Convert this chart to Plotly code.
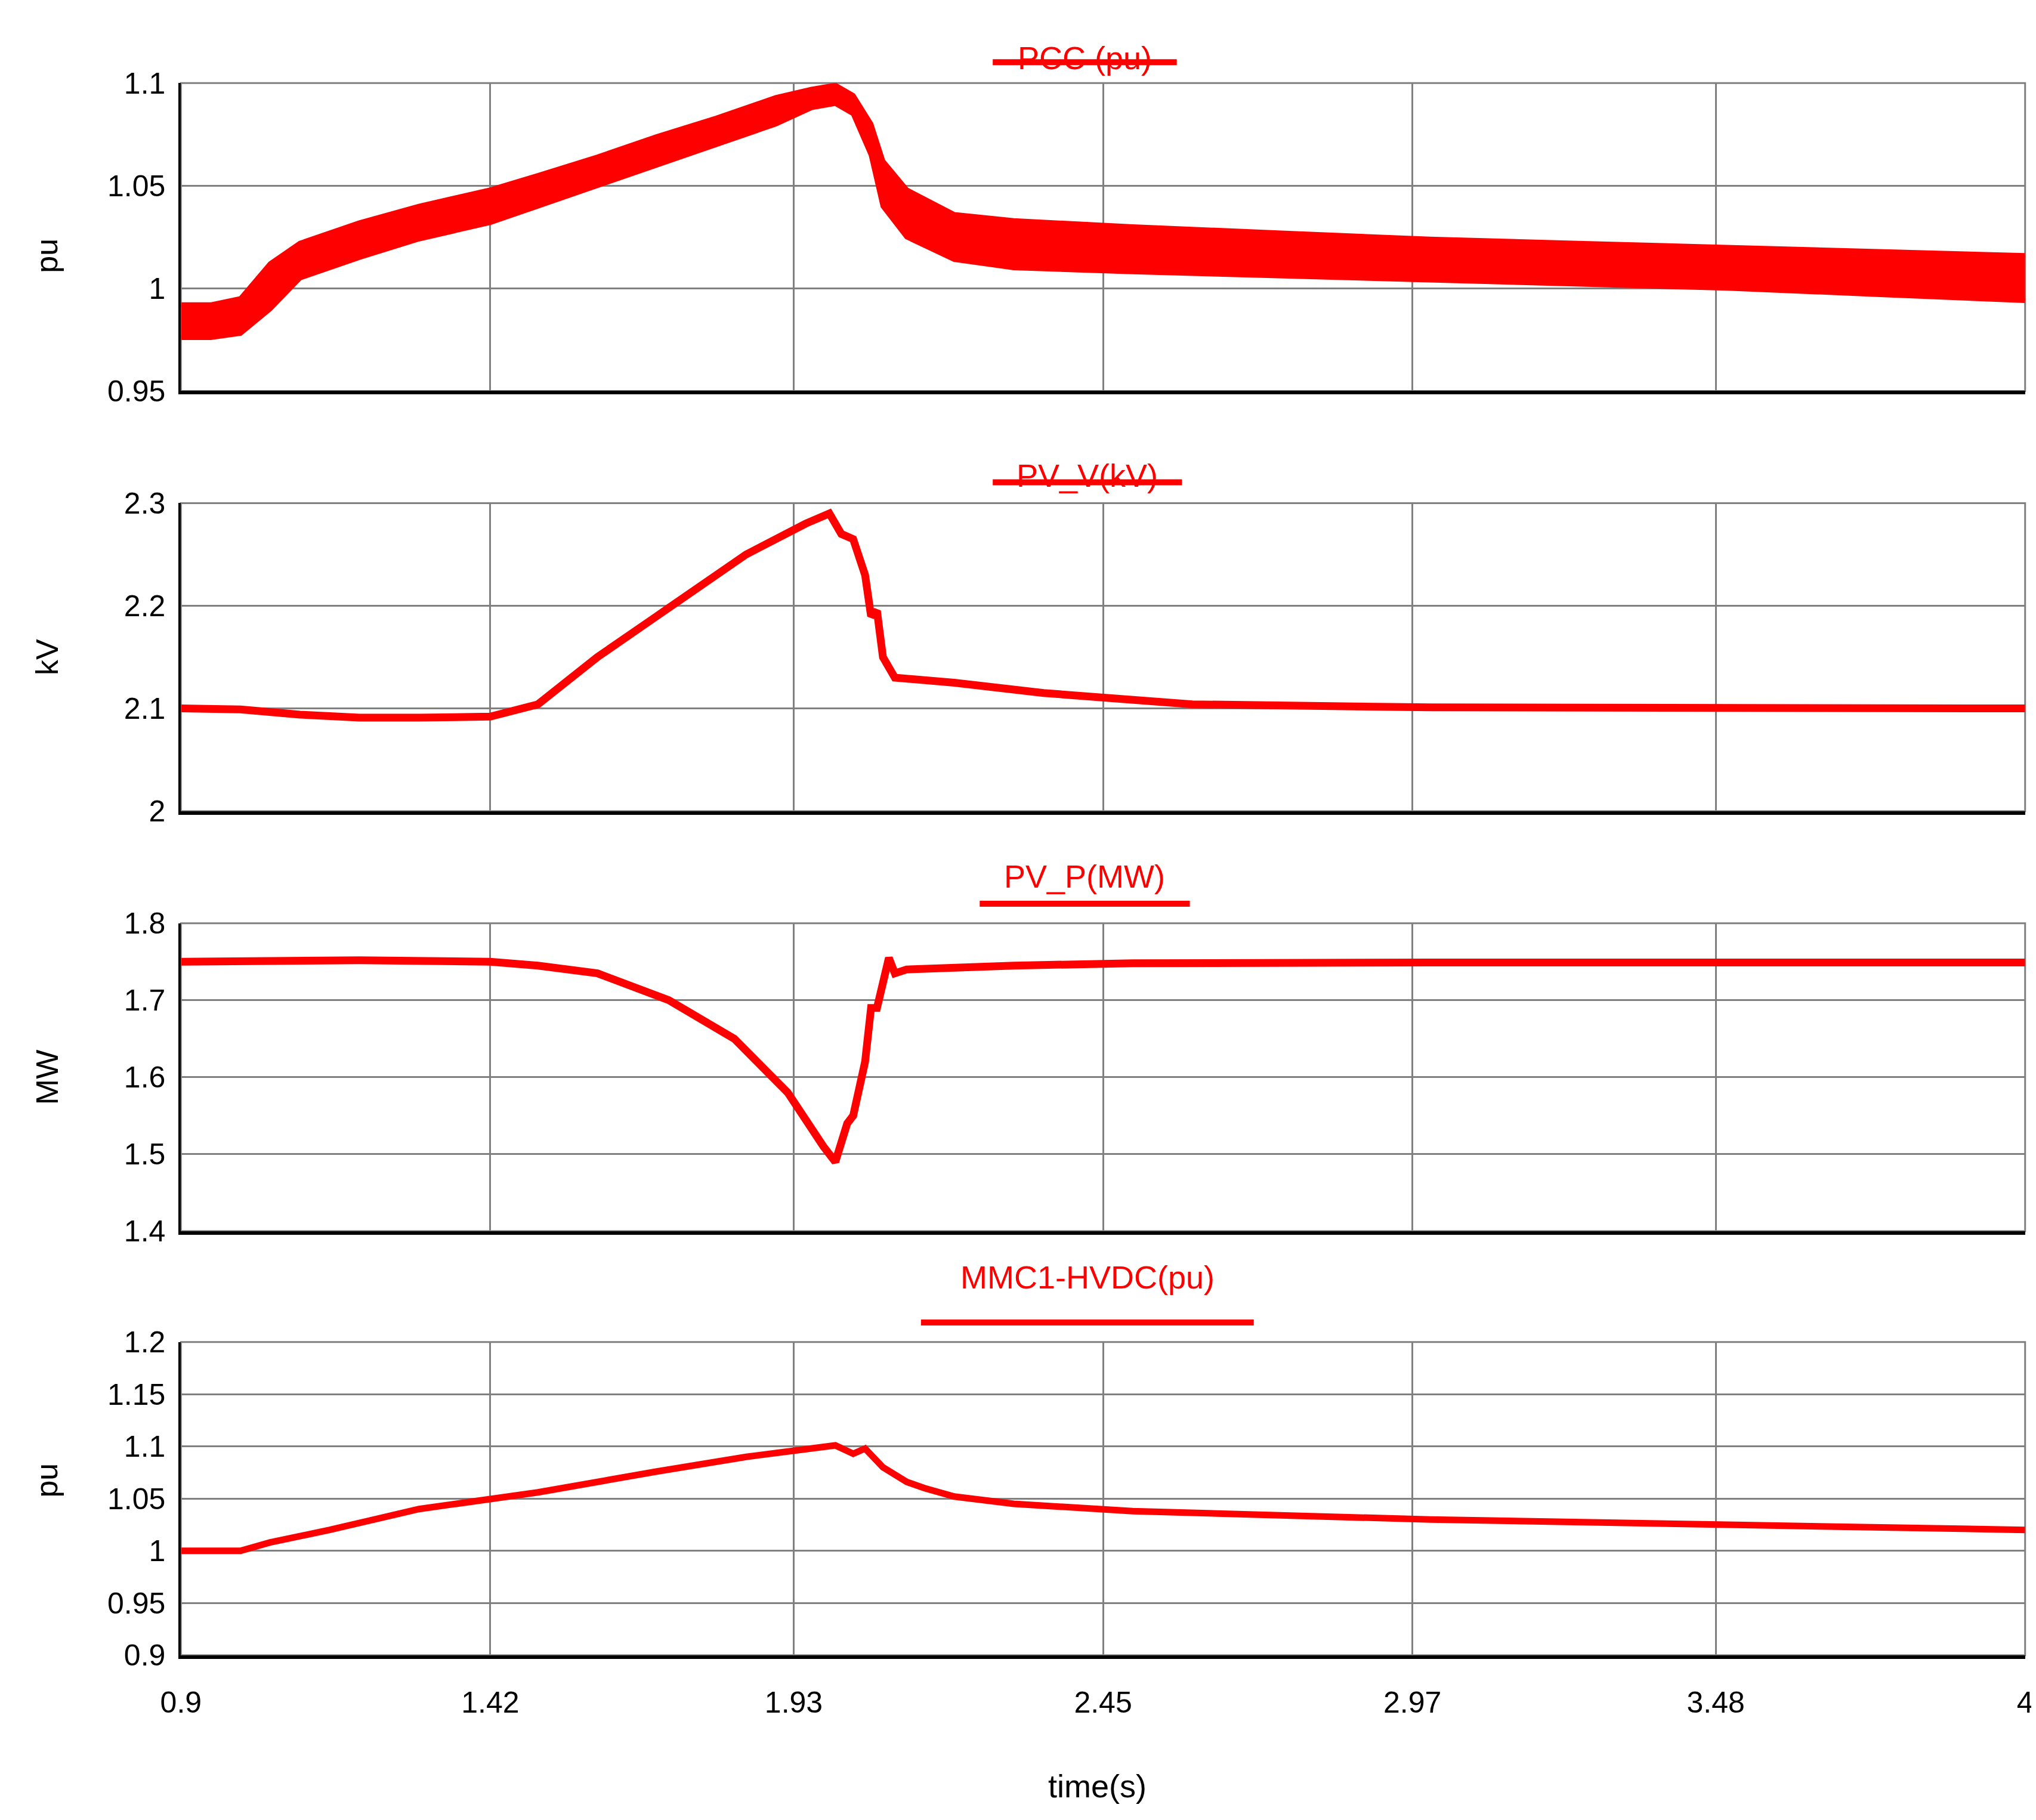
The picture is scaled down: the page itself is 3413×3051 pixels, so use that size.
import plotly.graph_objects as go

# PCC (pu) oscillation band envelopes
pcc_t = [0.9, 0.95, 1.0, 1.05, 1.1, 1.2, 1.3, 1.42, 1.5, 1.6, 1.7, 1.8, 1.9, 1.96, 2.0, 2.03, 2.06, 2.08, 2.12, 2.2, 2.3, 2.5, 2.75, 3.0, 3.25, 3.5, 3.75, 4.0]
pcc_hi = [0.992, 0.992, 0.995, 1.012, 1.022, 1.032, 1.040, 1.048, 1.055, 1.064, 1.074, 1.083, 1.093, 1.097, 1.099, 1.094, 1.080, 1.062, 1.048, 1.036, 1.033, 1.030, 1.027, 1.024, 1.022, 1.020, 1.018, 1.016]
pcc_lo = [0.976, 0.976, 0.978, 0.990, 1.005, 1.015, 1.024, 1.032, 1.040, 1.050, 1.060, 1.070, 1.080, 1.088, 1.090, 1.085, 1.065, 1.040, 1.025, 1.014, 1.010, 1.008, 1.006, 1.004, 1.002, 1.000, 0.997, 0.994]

pvv_t = [0.9, 1.0, 1.1, 1.2, 1.3, 1.42, 1.5, 1.6, 1.7, 1.75, 1.85, 1.95, 1.99, 2.01, 2.03, 2.05, 2.06, 2.07, 2.08, 2.1, 2.2, 2.35, 2.6, 3.0, 3.5, 4.0]
pvv = [2.100, 2.099, 2.094, 2.091, 2.091, 2.092, 2.104, 2.150, 2.190, 2.210, 2.250, 2.280, 2.290, 2.270, 2.265, 2.230, 2.190, 2.195, 2.150, 2.130, 2.125, 2.115, 2.104, 2.101, 2.100, 2.100]

pvp_t = [0.9, 1.2, 1.42, 1.5, 1.6, 1.72, 1.83, 1.92, 1.98, 2.0, 2.02, 2.03, 2.05, 2.06, 2.07, 2.08, 2.09, 2.1, 2.12, 2.3, 2.5, 3.0, 4.0]
pvp = [1.750, 1.752, 1.750, 1.745, 1.735, 1.700, 1.650, 1.580, 1.510, 1.490, 1.540, 1.550, 1.620, 1.690, 1.690, 1.720, 1.755, 1.735, 1.740, 1.745, 1.748, 1.749, 1.749]

mmc_t = [0.9, 1.0, 1.05, 1.15, 1.3, 1.5, 1.7, 1.85, 2.0, 2.03, 2.05, 2.08, 2.12, 2.15, 2.2, 2.3, 2.5, 2.8, 3.0, 3.5, 4.0]
mmc = [1.000, 1.000, 1.008, 1.020, 1.040, 1.056, 1.076, 1.090, 1.101, 1.093, 1.098, 1.080, 1.066, 1.060, 1.052, 1.045, 1.038, 1.033, 1.030, 1.025, 1.020]

x_ticks = [0.9, 1.42, 1.93, 2.45, 2.97, 3.48, 4]
titles = ["PCC (pu)", "PV_V(kV)", "PV_P(MW)", "MMC1-HVDC(pu)"]
ylabels = ["pu", "kV", "MW", "pu"]
yranges = [[0.95, 1.1], [2.0, 2.3], [1.4, 1.8], [0.9, 1.2]]
yticks = [[0.95, 1, 1.05, 1.1], [2, 2.1, 2.2, 2.3], [1.4, 1.5, 1.6, 1.7, 1.8],
          [0.9, 0.95, 1, 1.05, 1.1, 1.15, 1.2]]

RED = "#ff0000"
FONT = "Liberation Sans"
fig = go.Figure()
fig.add_trace(go.Scatter(x=pcc_t, y=pcc_lo, mode="lines", line=dict(color=RED, width=8), xaxis="x", yaxis="y"))
fig.add_trace(go.Scatter(x=pcc_t, y=pcc_hi, mode="lines", line=dict(color=RED, width=8), fill="tonexty", fillcolor=RED, xaxis="x", yaxis="y"))
fig.add_trace(go.Scatter(x=pvv_t, y=pvv, mode="lines", line=dict(color=RED, width=13), xaxis="x2", yaxis="y2"))
fig.add_trace(go.Scatter(x=pvp_t, y=pvp, mode="lines", line=dict(color=RED, width=13), xaxis="x3", yaxis="y3"))
fig.add_trace(go.Scatter(x=mmc_t, y=mmc, mode="lines", line=dict(color=RED, width=11), xaxis="x4", yaxis="y4"))

H = 1395.0
W = 1560.0
domains = [(60, 296), (382, 618), (704, 940), (1025, 1265)]
xd = [135 / W, 1548 / W]
layout = dict(width=3413, height=3051, margin=dict(l=0, r=0, t=0, b=0),
              paper_bgcolor="white", plot_bgcolor="white", showlegend=False,
              font=dict(family=FONT, size=50, color="black"))
shapes, annots = [], []
title_y = [26, 346, 668, 990]
ul = [(757, 898, 44), (757, 902, 366), (747, 908, 689), (702, 957, 1010)]
for i in range(4):
    s = "" if i == 0 else str(i + 1)
    top, bot = domains[i]
    layout["xaxis" + s] = dict(domain=xd, range=[0.9, 4], tickvals=x_ticks, automargin=False,
                               showticklabels=(i == 3), showgrid=True, gridcolor="#808080", gridwidth=3,
                               showline=True, linecolor="black", linewidth=6, zeroline=False,
                               anchor="y" + s, ticks="outside", ticklen=30, tickcolor="rgba(0,0,0,0)",
                               tickfont=dict(size=50))
    layout["yaxis" + s] = dict(domain=[1 - bot / H, 1 - top / H], range=yranges[i], tickvals=yticks[i],
                               showgrid=True, gridcolor="#808080", gridwidth=3, automargin=False,
                               showline=True, linecolor="black", linewidth=4, zeroline=False,
                               anchor="x" + s, ticks="outside", ticklen=12, tickcolor="rgba(0,0,0,0)",
                               tickfont=dict(size=50))
    annots.append(dict(text=ylabels[i], xref="paper", yref="paper", x=18 / W,
                       y=1 - (top + bot) / 2 / H, showarrow=False, textangle=-90,
                       font=dict(size=52, family=FONT)))
    shapes.append(dict(type="rect", xref="paper", yref="paper", x0=xd[0], x1=xd[1],
                       y0=1 - bot / H, y1=1 - top / H, line=dict(color="#808080", width=3), layer="below"))
    x0, x1, yy = ul[i]
    shapes.append(dict(type="line", xref="paper", yref="paper", x0=x0 / W, x1=x1 / W,
                       y0=1 - yy / H, y1=1 - yy / H, line=dict(color=RED, width=10)))
    annots.append(dict(text=titles[i], xref="paper", yref="paper", x=(x0 + x1) / 2 / W,
                       y=1 - title_y[i] / H, showarrow=False, font=dict(color=RED, size=54, family=FONT)))
annots.append(dict(text="time(s)", xref="paper", yref="paper", x=837 / W, y=1 - 1380 / H,
                   showarrow=False, font=dict(size=54, family=FONT)))
layout["shapes"] = shapes
layout["annotations"] = annots
fig.update_layout(**layout)
fig.write_html("out.html")
